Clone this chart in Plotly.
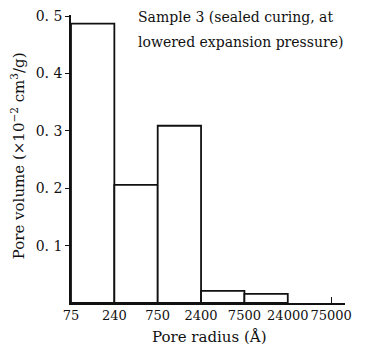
import plotly.graph_objects as go

edges = ["75", "240", "750", "2400", "7500", "24000", "75000"]
pore_volume = [0.487, 0.206, 0.309, 0.021, 0.016]
y_ticks = [0.1, 0.2, 0.3, 0.4, 0.5]
y_ticklabels = ["0. 1", "0. 2", "0. 3", "0. 4", "0. 5"]

centers = [i + 0.5 for i in range(len(pore_volume))]

font = dict(family="DejaVu Serif, Liberation Serif, serif", size=14, color="#111")

fig = go.Figure()
fig.add_trace(go.Bar(
    x=centers, y=pore_volume, width=1,
    marker=dict(color="white", line=dict(color="#111", width=1.8)),
    showlegend=False, hoverinfo="skip",
))

fig.update_layout(
    width=369, height=350,
    margin=dict(l=71, r=24, t=15, b=47),
    paper_bgcolor="white", plot_bgcolor="white",
    font=font,
    xaxis=dict(
        range=[0, 6.32], tickvals=list(range(len(edges))), ticktext=edges,
        showgrid=False, zeroline=False, showline=True, linecolor="#111", linewidth=1.6,
        ticks="inside", ticklen=6, tickwidth=1.4, tickcolor="#111",
        tickfont=dict(size=13), tickangle=0, automargin=False,
    ),
    yaxis=dict(
        range=[0, 0.502], tickvals=y_ticks, ticktext=y_ticklabels,
        showgrid=False, zeroline=False, showline=True, linecolor="#111", linewidth=1.6,
        ticks="outside", ticklen=4, tickwidth=1.3, tickcolor="#111",
        tickfont=dict(size=14), automargin=False,
    ),
    annotations=[
        dict(text="Sample 3 (sealed curing, at",
             xref="paper", yref="paper", x=0.237, y=0.993, xanchor="left", yanchor="middle",
             showarrow=False, font=dict(size=14)),
        dict(text="lowered expansion pressure)",
             xref="paper", yref="paper", x=0.237, y=0.906, xanchor="left", yanchor="middle",
             showarrow=False, font=dict(size=14)),
        dict(text="Pore radius (Å)", xref="paper", yref="paper",
             x=0.507, y=-0.118, xanchor="center", yanchor="middle",
             showarrow=False, font=dict(size=15)),
        dict(text="Pore volume (×10<sup>−2</sup> cm<sup>3</sup>/g)", xref="paper", yref="paper",
             x=-0.193, y=0.51, xanchor="center", yanchor="middle", textangle=-90,
             showarrow=False, font=dict(size=15)),
    ],
)

fig.write_html("out.html")
